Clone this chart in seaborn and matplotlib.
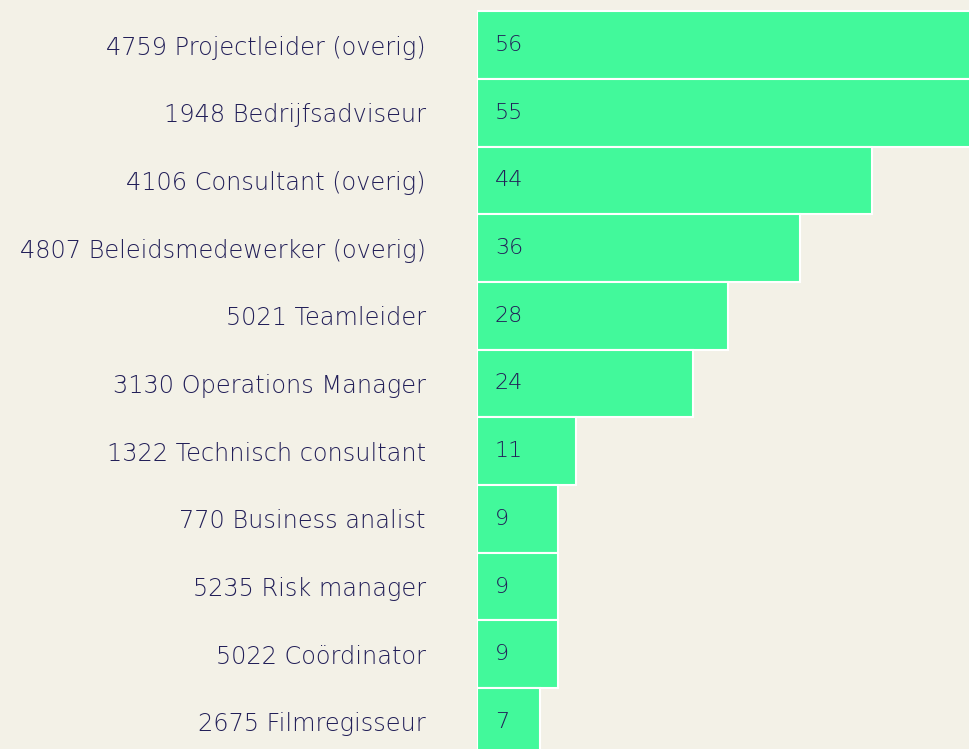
import matplotlib
matplotlib.use("Agg")
import matplotlib.pyplot as plt
import seaborn as sns
import pandas as pd

categories = [
    "4759 Projectleider (overig)",
    "1948 Bedrijfsadviseur",
    "4106 Consultant (overig)",
    "4807 Beleidsmedewerker (overig)",
    "5021 Teamleider",
    "3130 Operations Manager",
    "1322 Technisch consultant",
    "770 Business analist",
    "5235 Risk manager",
    "5022 Coördinator",
    "2675 Filmregisseur",
]
values = [56, 55, 44, 36, 28, 24, 11, 9, 9, 9, 7]

BG = "#f3f1e7"
GREEN = "#42f99b"
TEXT = "#221f58"

sns.set_theme(style="white")
plt.rcParams["font.family"] = ["DejaVu Sans"]

df = pd.DataFrame({"cat": categories, "val": values})

fig = plt.figure(figsize=(9.70, 7.49), dpi=100, facecolor=BG)
ax = fig.add_axes([477 / 970, 0, 1 - 477 / 970, 1])
ax.set_facecolor(BG)

sns.barplot(data=df, x="val", y="cat", orient="h", color=GREEN, saturation=1,
            width=1.0, edgecolor="white", linewidth=1.5, ax=ax)

ax.set_xlim(0, 54.9)
ax.set_ylim(10.4, -0.665)

for i, v in enumerate(values):
    ax.text(2.0, i, str(v), va="center", ha="left", fontsize=16,
            fontweight="light", color=TEXT)

ax.set_xlabel("")
ax.set_ylabel("")
ax.set_xticks([])
ax.tick_params(axis="y", length=0, pad=37, labelsize=17.3, labelcolor=TEXT)
for lbl in ax.get_yticklabels():
    lbl.set_fontweight("light")
for s in ax.spines.values():
    s.set_visible(False)

fig.savefig("out.png", dpi=100, facecolor=BG)
